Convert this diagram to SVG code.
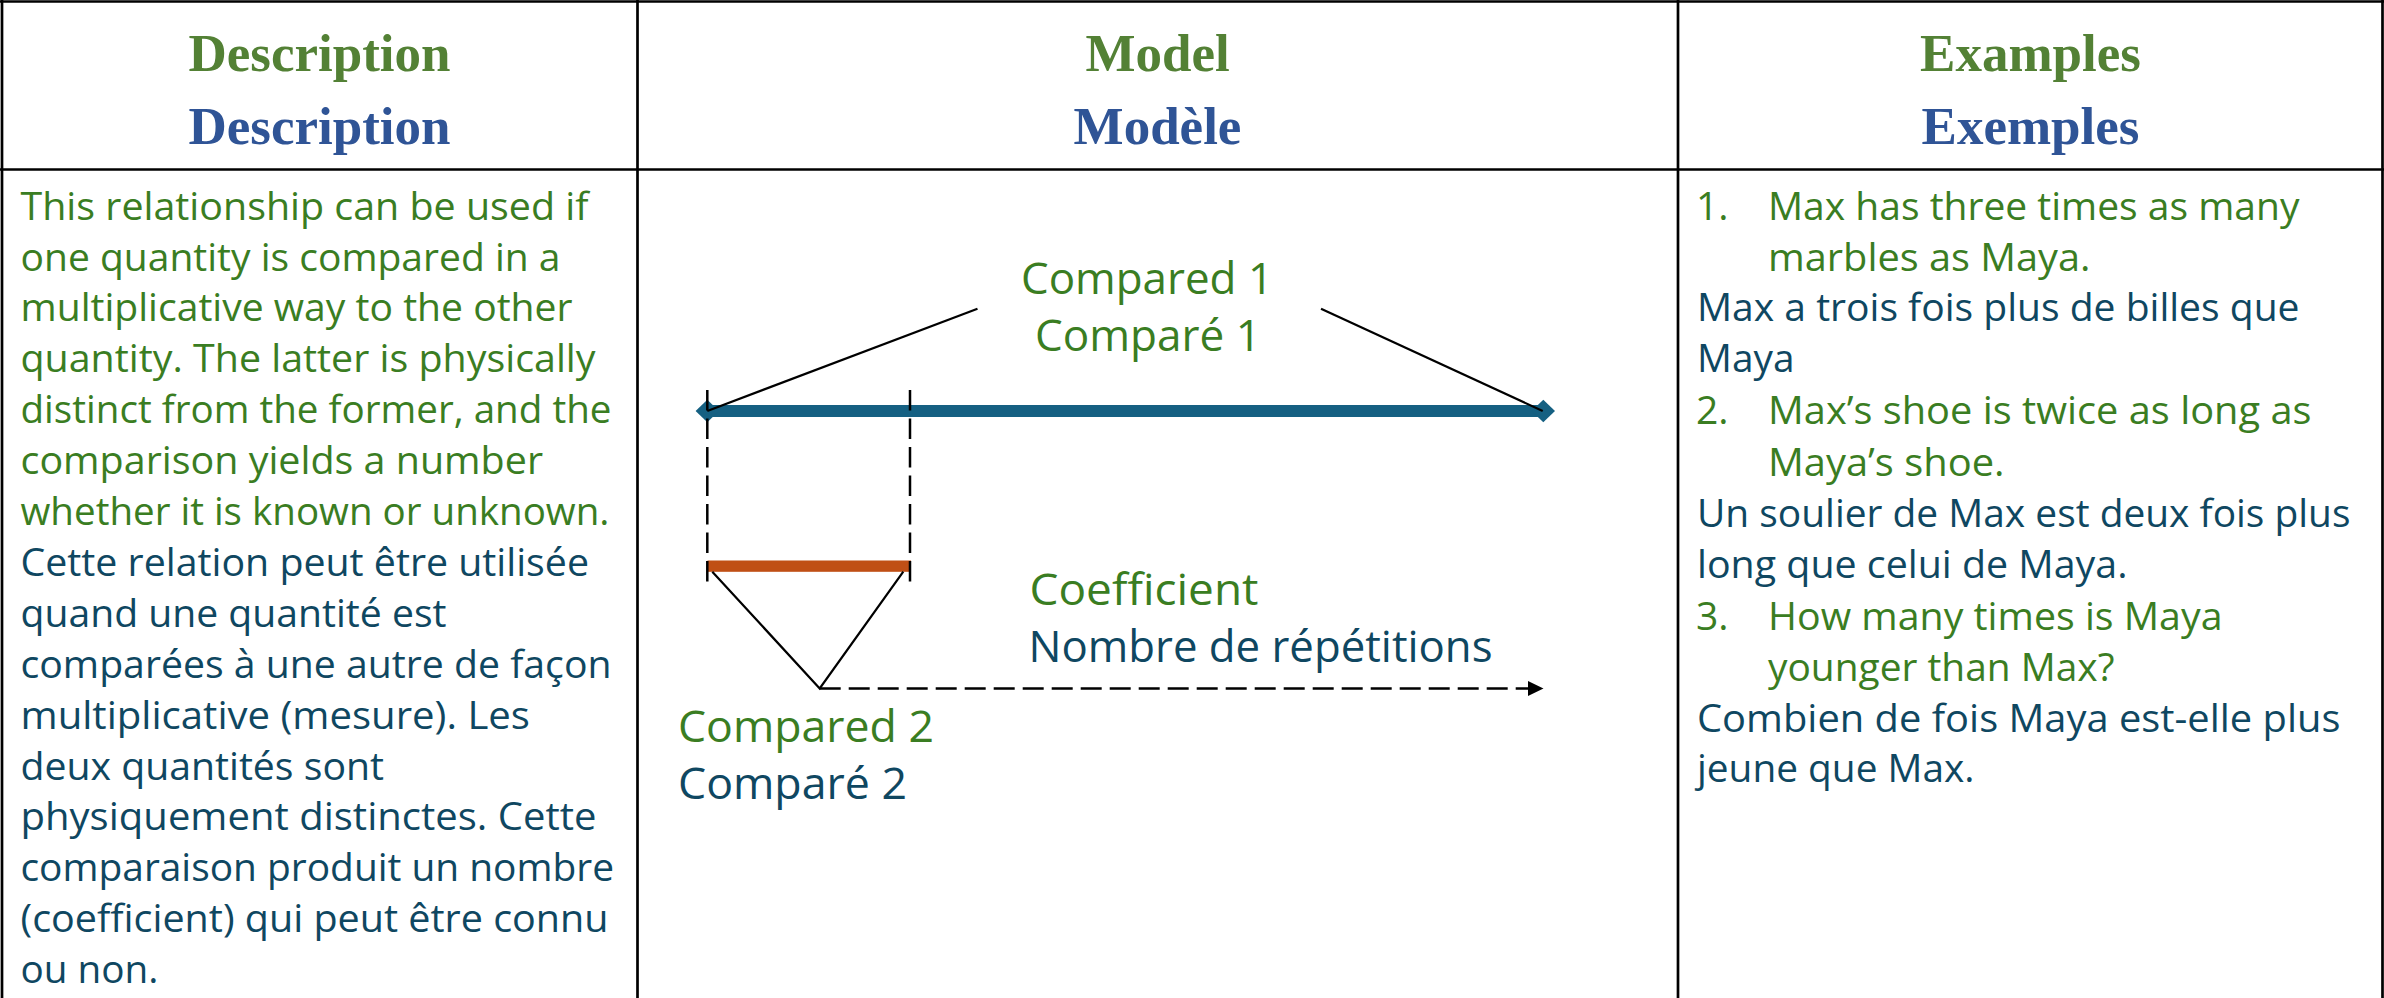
<svg xmlns="http://www.w3.org/2000/svg" width="2384" height="998" viewBox="0 0 2384 998">
  <style>
    .hdr { font-family: "Liberation Serif", "Times New Roman", serif; font-weight: bold; font-size: 53px; text-anchor: middle; }
    .hg { fill: #538135; }
    .hb { fill: #2F5496; }
    .txt { font-family: "Open Sans", "Liberation Sans", sans-serif; font-size: 39px; }
    .lbl { font-family: "Open Sans", "Liberation Sans", sans-serif; font-size: 44px; }
    .tg { fill: #3A7D22; }
    .tb { fill: #0F4761; }
    .grid { stroke: #000000; stroke-width: 2.7; fill: none; }
    .lead { stroke: #000000; stroke-width: 2.2; fill: none; }
    .dash { stroke: #000000; stroke-width: 2.5; fill: none; stroke-dasharray: 20.5 8; }
    .adash { stroke: #000000; stroke-width: 2.5; fill: none; stroke-dasharray: 21 8; }
  </style>
  <defs>
    <marker id="diamond" markerUnits="userSpaceOnUse" markerWidth="26" markerHeight="26" viewBox="-13 -13 26 26" refX="0" refY="0" orient="auto">
      <path d="M-11.7,0 L0,-11.3 L11.7,0 L0,11.3 Z" fill="#156082"/>
    </marker>
    <marker id="arrow" markerUnits="userSpaceOnUse" markerWidth="18" markerHeight="18" viewBox="0 -9 18 18" refX="0" refY="0" orient="auto">
      <path d="M0,-7.5 L15.5,0 L0,7.5 Z" fill="#000000"/>
    </marker>
  </defs>

  <rect x="0" y="0" width="2384" height="998" fill="#FFFFFF"/>

  <g id="table-grid">
    <line class="grid" x1="0" y1="1.5" x2="2384" y2="1.5" stroke-width="3"/>
    <line class="grid" x1="2" y1="0" x2="2" y2="998" stroke-width="3"/>
    <line class="grid" x1="2382.5" y1="0" x2="2382.5" y2="998" stroke-width="3"/>
    <line class="grid" x1="0" y1="169.5" x2="2384" y2="169.5"/>
    <line class="grid" x1="637.5" y1="0" x2="637.5" y2="998"/>
    <line class="grid" x1="1678" y1="0" x2="1678" y2="998"/>
  </g>

  <g id="header-description">
    <text class="hdr hg" x="319.5" y="71">Description</text>
    <text class="hdr hb" x="319.5" y="144">Description</text>
  </g>
  <g id="header-model">
    <text class="hdr hg" x="1157.5" y="71">Model</text>
    <text class="hdr hb" x="1157.5" y="144">Modèle</text>
  </g>
  <g id="header-examples">
    <text class="hdr hg" x="2030.5" y="71">Examples</text>
    <text class="hdr hb" x="2030.5" y="144">Exemples</text>
  </g>

  <g id="description-cell" class="txt">
    <text class="tg" x="20.5" y="219.6" textLength="568" lengthAdjust="spacingAndGlyphs">This relationship can be used if</text>
    <text class="tg" x="20.5" y="270.5" textLength="540" lengthAdjust="spacingAndGlyphs">one quantity is compared in a</text>
    <text class="tg" x="20.5" y="321.4" textLength="552" lengthAdjust="spacingAndGlyphs">multiplicative way to the other</text>
    <text class="tg" x="20.5" y="372.3" textLength="575" lengthAdjust="spacingAndGlyphs">quantity. The latter is physically</text>
    <text class="tg" x="20.5" y="423.2" textLength="591" lengthAdjust="spacingAndGlyphs">distinct from the former, and the</text>
    <text class="tg" x="20.5" y="474.1" textLength="522.5" lengthAdjust="spacingAndGlyphs">comparison yields a number</text>
    <text class="tg" x="20.5" y="525" textLength="589" lengthAdjust="spacingAndGlyphs">whether it is known or unknown.</text>
    <text class="tb" x="20.5" y="575.9" textLength="568.5" lengthAdjust="spacingAndGlyphs">Cette relation peut être utilisée</text>
    <text class="tb" x="20.5" y="626.8" textLength="426" lengthAdjust="spacingAndGlyphs">quand une quantité est</text>
    <text class="tb" x="20.5" y="677.7" textLength="591" lengthAdjust="spacingAndGlyphs">comparées à une autre de façon</text>
    <text class="tb" x="20.5" y="728.6" textLength="509.5" lengthAdjust="spacingAndGlyphs">multiplicative (mesure). Les</text>
    <text class="tb" x="20.5" y="779.5" textLength="363.5" lengthAdjust="spacingAndGlyphs">deux quantités sont</text>
    <text class="tb" x="20.5" y="830.4" textLength="576" lengthAdjust="spacingAndGlyphs">physiquement distinctes. Cette</text>
    <text class="tb" x="20.5" y="881.3" textLength="593.5" lengthAdjust="spacingAndGlyphs">comparaison produit un nombre</text>
    <text class="tb" x="20.5" y="932.2" textLength="588" lengthAdjust="spacingAndGlyphs">(coefficient) qui peut être connu</text>
    <text class="tb" x="20.5" y="983.1" textLength="138" lengthAdjust="spacingAndGlyphs">ou non.</text>
  </g>

  <g id="compared1-bar">
    <line x1="707.3" y1="411" x2="1543.3" y2="411" stroke="#156082" stroke-width="12" marker-start="url(#diamond)" marker-end="url(#diamond)"/>
  </g>
  <g id="compared2-bar">
    <rect x="707.5" y="560.5" width="203.5" height="11.3" fill="#C04F15"/>
  </g>

  <g id="connectors">
    <line class="dash" x1="707.3" y1="390" x2="707.3" y2="587"/>
    <line class="dash" x1="910" y1="390" x2="910" y2="587"/>
    <line class="lead" x1="977.5" y1="308.7" x2="707.3" y2="411"/>
    <line class="lead" x1="1321" y1="308.7" x2="1542.7" y2="411"/>
    <polyline class="lead" points="712.3,571.7 819.7,688.5 903.3,571.7"/>
    <line class="adash" x1="819.7" y1="688.5" x2="1528" y2="688.5" marker-end="url(#arrow)"/>
  </g>

  <g id="label-compared1" class="lbl tg">
    <text x="1021" y="294" textLength="252" lengthAdjust="spacingAndGlyphs">Compared 1</text>
    <text x="1035" y="351" textLength="226" lengthAdjust="spacingAndGlyphs">Comparé 1</text>
  </g>
  <g id="label-coefficient" class="lbl">
    <text class="tg" x="1029.5" y="604.7" textLength="229" lengthAdjust="spacingAndGlyphs">Coefficient</text>
    <text class="tb" x="1028.5" y="662" textLength="464" lengthAdjust="spacingAndGlyphs">Nombre de répétitions</text>
  </g>
  <g id="label-compared2" class="lbl">
    <text class="tg" x="678" y="742" textLength="256" lengthAdjust="spacingAndGlyphs">Compared 2</text>
    <text class="tb" x="678" y="799" textLength="229" lengthAdjust="spacingAndGlyphs">Comparé 2</text>
  </g>

  <g id="examples-cell" class="txt">
    <text class="tg" x="1696" y="219.6">1.</text>
    <text class="tg" x="1768" y="219.6" textLength="531.5" lengthAdjust="spacingAndGlyphs">Max has three times as many</text>
    <text class="tg" x="1768" y="270.5" textLength="322.5" lengthAdjust="spacingAndGlyphs">marbles as Maya.</text>
    <text class="tb" x="1697" y="321.4" textLength="602.5" lengthAdjust="spacingAndGlyphs">Max a trois fois plus de billes que</text>
    <text class="tb" x="1697" y="372.4" textLength="97.5" lengthAdjust="spacingAndGlyphs">Maya</text>
    <text class="tg" x="1696" y="424">2.</text>
    <text class="tg" x="1768" y="424" textLength="543.5" lengthAdjust="spacingAndGlyphs">Max’s shoe is twice as long as</text>
    <text class="tg" x="1768" y="475.5" textLength="236.5" lengthAdjust="spacingAndGlyphs">Maya’s shoe.</text>
    <text class="tb" x="1697" y="527" textLength="653.5" lengthAdjust="spacingAndGlyphs">Un soulier de Max est deux fois plus</text>
    <text class="tb" x="1697" y="578" textLength="430.5" lengthAdjust="spacingAndGlyphs">long que celui de Maya.</text>
    <text class="tg" x="1696" y="629.5">3.</text>
    <text class="tg" x="1768" y="629.5" textLength="454.5" lengthAdjust="spacingAndGlyphs">How many times is Maya</text>
    <text class="tg" x="1768" y="680.5" textLength="346.5" lengthAdjust="spacingAndGlyphs">younger than Max?</text>
    <text class="tb" x="1697" y="731.5" textLength="643.5" lengthAdjust="spacingAndGlyphs">Combien de fois Maya est-elle plus</text>
    <text class="tb" x="1697" y="782" textLength="277.5" lengthAdjust="spacingAndGlyphs">jeune que Max.</text>
  </g>
</svg>
